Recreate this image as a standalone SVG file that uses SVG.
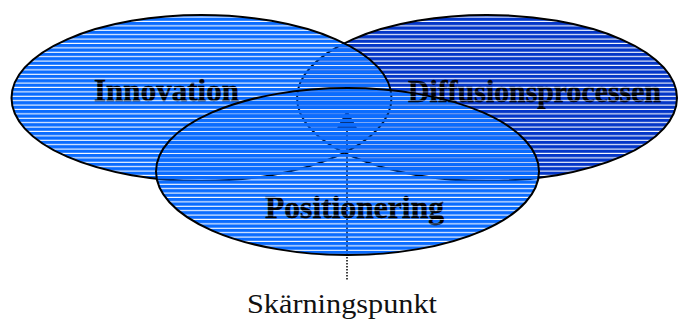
<svg xmlns="http://www.w3.org/2000/svg" width="678" height="322" viewBox="0 0 678 322">
  <defs>
    <pattern id="stripeLight" x="0" y="0" width="10" height="4.4" patternUnits="userSpaceOnUse">
      <rect x="0" y="0" width="10" height="3.3" fill="#0A6CFF"/>
    </pattern>
    <pattern id="stripeDark" x="0" y="0" width="10" height="4.4" patternUnits="userSpaceOnUse">
      <rect x="0" y="0" width="10" height="3.3" fill="#0436C8"/>
    </pattern>
    <pattern id="stripeText" x="0" y="0" width="10" height="4.4" patternUnits="userSpaceOnUse">
      <rect x="0" y="-0.3" width="10" height="3.9" fill="#000000"/>
    </pattern>
  </defs>
  <style>
    .ell { stroke: #000; stroke-width: 2; }
    .lbl { font-family: "Liberation Serif", "DejaVu Serif", serif; font-weight: bold; font-size: 31px; fill: url(#stripeText); stroke: url(#stripeText); stroke-width: 0.4; text-anchor: middle; }
    .cap { font-family: "Liberation Serif", "DejaVu Serif", serif; font-size: 28px; fill: #111; text-anchor: middle; }
    .ptr { stroke: #000; stroke-width: 1.5; fill: none; }
  </style>

  <g id="connectors">
    <line class="ptr" x1="347" y1="128" x2="347" y2="254"/>
    <line class="ptr" x1="347" y1="254" x2="347" y2="280" stroke-dasharray="1.5 1.5"/>
    <polygon points="347,110 336,130 358,130" fill="#000"/>
  </g>

  <g id="diffusionsprocessen">
    <ellipse class="ell" cx="487" cy="98" rx="190" ry="83" fill="url(#stripeDark)"/>
  </g>
  <g id="innovation">
    <ellipse class="ell" cx="201.5" cy="98" rx="190" ry="83" fill="url(#stripeLight)"/>
  </g>
  <g id="positionering">
    <ellipse class="ell" cx="347.5" cy="171.5" rx="191.5" ry="83.5" fill="url(#stripeLight)"/>
  </g>

  <g id="labels">
    <text class="lbl" x="166.5" y="101" textLength="145" lengthAdjust="spacingAndGlyphs">Innovation</text>
    <text class="lbl" x="534.5" y="102" textLength="253" lengthAdjust="spacingAndGlyphs">Diffusionsprocessen</text>
    <text class="lbl" x="354.5" y="218" textLength="179" lengthAdjust="spacingAndGlyphs">Positionering</text>
  </g>

  <g id="skarningspunkt">
    <text class="cap" x="342" y="313" textLength="190" lengthAdjust="spacingAndGlyphs">Skärningspunkt</text>
  </g>
</svg>
